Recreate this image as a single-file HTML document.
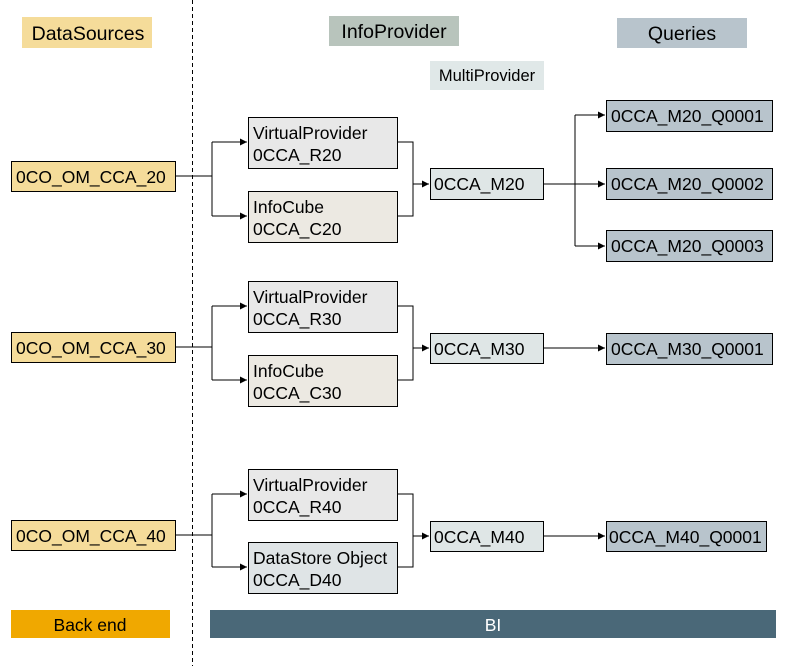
<!DOCTYPE html>
<html><head><style>
body{margin:0;background:#fff}
svg text{font-family:"Liberation Sans",Arial,sans-serif;font-size:17.5px;fill:#000}
</style></head><body>
<svg width="793" height="666" viewBox="0 0 793 666" xmlns="http://www.w3.org/2000/svg">
<defs><marker id="a" markerWidth="8" markerHeight="8" refX="7" refY="4" orient="auto" markerUnits="userSpaceOnUse"><path d="M0,0.5 L7,4 L0,7.5 z" fill="#000"/></marker></defs>
<line x1="192.5" y1="0" x2="192.5" y2="666" stroke="#000" stroke-dasharray="4,3"/>
<rect x="22" y="17" width="130" height="31" fill="#f5dc9a"/><text x="88" y="40" text-anchor="middle" style="font-size:19.5px">DataSources</text>
<rect x="329" y="16" width="130" height="30" fill="#b8c4bc"/><text x="394" y="38" text-anchor="middle" style="font-size:19.5px">InfoProvider</text>
<rect x="430" y="61" width="114" height="29" fill="#e0e8e8"/><text x="487" y="81" text-anchor="middle" style="font-size:16.5px">MultiProvider</text>
<rect x="617" y="18" width="130" height="30" fill="#b8c4cc"/><text x="682" y="40" text-anchor="middle" style="font-size:19.5px">Queries</text>
<g stroke="#000" stroke-width="1" fill="none">
<path d="M175,176 H212 M212,142 V216"/>
<path d="M212,142 H247" marker-end="url(#a)"/><path d="M212,216 H247" marker-end="url(#a)"/>
<path d="M397,142 H413 V216 H397"/><path d="M413,184 H429" marker-end="url(#a)"/>
<path d="M543,184 H575 M575,115 V246"/>
<path d="M575,115 H605" marker-end="url(#a)"/><path d="M575,184 H605" marker-end="url(#a)"/><path d="M575,246 H605" marker-end="url(#a)"/>
<path d="M175,347 H212 M212,306 V380"/>
<path d="M212,306 H247" marker-end="url(#a)"/><path d="M212,380 H247" marker-end="url(#a)"/>
<path d="M397,306 H413 V380 H397"/><path d="M413,348 H429" marker-end="url(#a)"/>
<path d="M543,348 H605" marker-end="url(#a)"/>
<path d="M175,535 H212 M212,494 V567"/>
<path d="M212,494 H247" marker-end="url(#a)"/><path d="M212,567 H247" marker-end="url(#a)"/>
<path d="M397,494 H413 V567 H397"/><path d="M413,536 H429" marker-end="url(#a)"/>
<path d="M543,536 H605" marker-end="url(#a)"/>
</g>
<g stroke="#000" stroke-width="1">
<rect x="11.5" y="161.5" width="164" height="30" fill="#f5dc9a"/>
<rect x="11.5" y="332.5" width="164" height="30" fill="#f5dc9a"/>
<rect x="11.5" y="520.5" width="164" height="30" fill="#f5dc9a"/>
<rect x="248.5" y="117.5" width="149" height="51" fill="#e8e8e8"/>
<rect x="248.5" y="191.5" width="149" height="51" fill="#ece9e2"/>
<rect x="248.5" y="281.5" width="149" height="51" fill="#e8e8e8"/>
<rect x="248.5" y="355.5" width="149" height="51" fill="#ece9e2"/>
<rect x="248.5" y="469.5" width="149" height="51" fill="#e8e8e8"/>
<rect x="248.5" y="542.5" width="149" height="51" fill="#dfe4e6"/>
<rect x="430.5" y="168.5" width="113" height="31" fill="#dfe6e6"/>
<rect x="430.5" y="333.5" width="113" height="30" fill="#dfe6e6"/>
<rect x="430.5" y="521.5" width="113" height="30" fill="#dfe6e6"/>
<rect x="606.5" y="100.5" width="166" height="31" fill="#b8c4cc"/>
<rect x="606.5" y="168.5" width="166" height="31" fill="#b8c4cc"/>
<rect x="606.5" y="230.5" width="166" height="31" fill="#b8c4cc"/>
<rect x="606.5" y="333.5" width="166" height="31" fill="#b8c4cc"/>
<rect x="606.5" y="521.5" width="160" height="30" fill="#b8c4cc"/>
</g>
<text x="16" y="183">0CO_OM_CCA_20</text>
<text x="16" y="354">0CO_OM_CCA_30</text>
<text x="16" y="542">0CO_OM_CCA_40</text>
<text x="253" y="139">VirtualProvider</text><text x="253" y="161">0CCA_R20</text>
<text x="253" y="213">InfoCube</text><text x="253" y="235">0CCA_C20</text>
<text x="253" y="303">VirtualProvider</text><text x="253" y="325">0CCA_R30</text>
<text x="253" y="377">InfoCube</text><text x="253" y="399">0CCA_C30</text>
<text x="253" y="491">VirtualProvider</text><text x="253" y="513">0CCA_R40</text>
<text x="253" y="564">DataStore Object</text><text x="253" y="586">0CCA_D40</text>
<text x="434" y="190">0CCA_M20</text>
<text x="434" y="355">0CCA_M30</text>
<text x="434" y="543">0CCA_M40</text>
<text x="611" y="122">0CCA_M20_Q0001</text>
<text x="611" y="190">0CCA_M20_Q0002</text>
<text x="611" y="252">0CCA_M20_Q0003</text>
<text x="611" y="355">0CCA_M30_Q0001</text>
<text x="609" y="543">0CCA_M40_Q0001</text>
<rect x="11" y="610" width="159" height="28" fill="#f0a800"/>
<text x="90" y="631" text-anchor="middle">Back end</text>
<rect x="210" y="610" width="566" height="28" fill="#4a6878"/>
<text x="493" y="631" text-anchor="middle" style="fill:#fff">BI</text>
</svg>
</body></html>
